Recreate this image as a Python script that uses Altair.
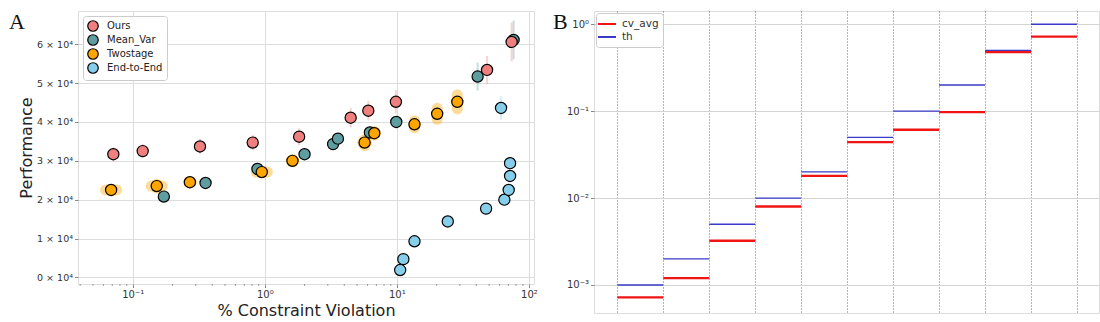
import altair as alt
import pandas as pd

# ---------------- Panel A data ----------------
methods = ["Ours", "Mean_Var", "Twostage", "End-to-End"]
method_colors = ["#F08080", "#5F9EA0", "#FFA500", "#87CEEB"]

ours_cv = [0.0713, 0.119, 0.323, 0.81, 1.82, 4.47, 6.08, 9.84, 48.2, 74.0]
ours_perf = [31700, 32500, 33700, 34700, 36200, 41100, 42900, 45200, 53400, 60600]
ours_err = [1800, 1800, 1900, 2000, 2200, 2500, 2500, 3000, 3600, 5000]

mv_cv = [0.172, 0.356, 0.88, 2.0, 3.29, 3.58, 6.25, 9.9, 40.9, 76.6]
mv_perf = [20800, 24300, 27900, 31700, 34300, 35700, 37300, 40000, 51700, 61100]
mv_err = [1000, 1000, 1200, 1300, 1300, 1300, 1500, 1500, 3600, 5000]

ts_cv = [0.0686, 0.152, 0.271, 0.949, 1.62, 5.7, 6.75, 13.6, 20.2, 28.7]
ts_perf = [22500, 23500, 24500, 27100, 30000, 34700, 37100, 39400, 42100, 45200]
ts_xerr_dec = [0.042, 0.042, 0.011, 0.042, 0.010, 0.015, 0.008, 0.006, 0.006, 0.006]
ts_yerr = [130, 500, 150, 130, 250, 770, 510, 900, 1400, 1800]

e2e_cv = [10.6, 11.2, 13.6, 24.3, 47.4, 65.2, 70.3, 72.0, 72.0, 61.5]
e2e_perf = [1900, 4700, 9300, 14400, 17700, 20000, 22500, 26100, 29400, 43600]
e2e_err = [300, 300, 300, 300, 300, 300, 300, 300, 300, 3000]

x_major = [0.1, 1, 10, 100]
x_minor = [0.04, 0.05, 0.06, 0.07, 0.08, 0.09,
           0.2, 0.3, 0.4, 0.5, 0.6, 0.7, 0.8, 0.9,
           2, 3, 4, 5, 6, 7, 8, 9,
           20, 30, 40, 50, 60, 70, 80, 90]
y_ticks_a = [0, 10000, 20000, 30000, 40000, 50000, 60000]

# ---------------- Panel B data ----------------
seg_lo = [0, 1, 2, 3, 4, 5, 6, 7, 8, 9]
seg_hi = [1, 2, 3, 4, 5, 6, 7, 8, 9, 10]
th_vals = [0.001, 0.002, 0.005, 0.01, 0.02, 0.05, 0.1, 0.2, 0.5, 1.0]
cv_avg_vals = [0.00072, 0.0012, 0.00323, 0.0080, 0.018, 0.044, 0.061, 0.0975, 0.48, 0.72]
b_series = ["cv_avg", "th"]
b_colors = ["#f01414", "#3a3ac8"]
b_grid_x = [0, 1, 2, 3, 4, 5, 6, 7, 8, 9, 10]
y_ticks_b = [0.001, 0.01, 0.1, 1]

FONT = "DejaVu Sans"
W_A, H_A = 456, 273
W_B, H_B = 505, 302

# ---------- build tables ----------
def block(name, cv, perf, err):
    return pd.DataFrame({"method": name, "cv": cv, "perf": perf, "err": err})

pts = pd.concat([
    block("Mean_Var", mv_cv, mv_perf, mv_err),
    block("Ours", ours_cv, ours_perf, ours_err),
    block("Twostage", ts_cv, ts_perf, ts_yerr),
    block("End-to-End", e2e_cv, e2e_perf, e2e_err),
], ignore_index=True)
pts["lo"] = pts["perf"] - pts["err"]
pts["hi"] = pts["perf"] + pts["err"]

ts = pd.DataFrame({"method": "Twostage", "cv": ts_cv, "perf": ts_perf,
                   "xd": ts_xerr_dec, "ye": ts_yerr})
minor_df = pd.DataFrame({"m": x_minor})

xscale = alt.Scale(type="log", domain=[0.03851, 109.3], nice=False)
yscale = alt.Scale(domain=[-1700, 68560], nice=False, zero=False)
cscale = alt.Scale(domain=methods, range=method_colors)

x_label_expr = ("datum.value == 0.1 ? '10⁻¹' : datum.value == 1 ? '10⁰' : "
                "datum.value == 10 ? '10¹' : '10²'")

x_axis = alt.Axis(values=x_major, labelExpr=x_label_expr, grid=True,
                  gridColor="#dddddd", tickSize=3.5, tickColor="#888",
                  domain=False, labelFontSize=10, labelColor="#333",
                  labelFont=FONT, labelPadding=2,
                  title="% Constraint Violation", titleFontSize=16,
                  titleFont=FONT, titleFontWeight="normal", titleColor="#222",
                  titlePadding=3)
y_axis = alt.Axis(values=y_ticks_a,
                  labelExpr="format(datum.value/10000, 'd') + ' × 10⁴'",
                  grid=True, gridColor="#dddddd", tickSize=3.5, tickColor="#888",
                  domain=False, labelFontSize=9.5, labelColor="#333",
                  labelFont=FONT, labelPadding=2,
                  title="Performance", titleFontSize=16, titleFont=FONT,
                  titleFontWeight="normal", titleColor="#222", titlePadding=2)

legend_a = alt.Legend(
    title=None, orient="top-left", offset=5, padding=4,
    fillColor="white", strokeColor="#cccccc", cornerRadius=3,
    labelFontSize=10, labelFont=FONT, labelColor="#222",
    symbolSize=110, symbolStrokeColor="black", symbolStrokeWidth=1.2,
    symbolOpacity=1, symbolType="circle", rowPadding=-2, labelOffset=8)

base = alt.Chart(pts)

err_layers = []
for name, col in zip(methods, method_colors):
    if name == "Twostage":
        continue
    err_layers.append(
        base.transform_filter(alt.datum.method == name).mark_rule(
            strokeWidth=2, opacity=0.35, color=col).encode(
            x=alt.X("cv:Q", scale=xscale, axis=x_axis),
            y=alt.Y("lo:Q", scale=yscale, axis=y_axis),
            y2="hi:Q"))

ts_h = alt.Chart(ts).transform_calculate(
    xl="datum.cv * pow(10, -datum.xd)", xh="datum.cv * pow(10, datum.xd)"
).mark_rule(strokeWidth=11, strokeCap="round", opacity=0.4, color="#FFA500").encode(
    x=alt.X("xl:Q", scale=xscale, axis=x_axis), x2="xh:Q",
    y=alt.Y("perf:Q", scale=yscale, axis=y_axis))

ts_v = alt.Chart(ts).transform_calculate(
    yl="datum.perf - datum.ye", yh="datum.perf + datum.ye"
).mark_rule(strokeWidth=11, strokeCap="round", opacity=0.4, color="#FFA500").encode(
    x=alt.X("cv:Q", scale=xscale, axis=x_axis),
    y=alt.Y("yl:Q", scale=yscale, axis=y_axis), y2="yh:Q")

points = base.mark_point(filled=True, size=125, stroke="black",
                         strokeWidth=1.2, opacity=1).encode(
    x=alt.X("cv:Q", scale=xscale, axis=x_axis),
    y=alt.Y("perf:Q", scale=yscale, axis=y_axis),
    color=alt.Color("method:N", scale=cscale, legend=legend_a),
)

minor = alt.Chart(minor_df).mark_rule(color="#888", strokeWidth=0.8).encode(
    x=alt.X("m:Q", scale=xscale, axis=x_axis),
    y=alt.value(H_A), y2=alt.value(H_A + 2),
)

label_a = alt.Chart(pd.DataFrame({"t": ["A"]})).mark_text(
    font="Liberation Serif", fontSize=22, align="left", baseline="alphabetic",
    color="#111").encode(text="t:N", x=alt.value(-69), y=alt.value(18))

chart_a = alt.layer(*err_layers, ts_h, ts_v, points, minor, label_a).properties(
    width=W_A, height=H_A)

# ---------------- Panel B ----------------
bdf = pd.concat([
    pd.DataFrame({"series": "cv_avg", "lo": seg_lo, "hi": seg_hi, "val": cv_avg_vals}),
    pd.DataFrame({"series": "th", "lo": seg_lo, "hi": seg_hi, "val": th_vals}),
], ignore_index=True)

bx = alt.Scale(domain=[-0.507, 10.479], nice=False, zero=False)
by = alt.Scale(type="log", domain=[4.76e-4, 1.42], nice=False)
bc = alt.Scale(domain=b_series, range=b_colors)

b_y_expr = ("datum.value == 0.001 ? '10⁻³' : datum.value == 0.01 ? '10⁻²' : "
            "datum.value == 0.1 ? '10⁻¹' : '10⁰'")

bx_axis = alt.Axis(values=b_grid_x, grid=True, gridColor="#3535e0",
                   gridDash=[1, 2], gridOpacity=0.8, gridWidth=1,
                   labels=False, ticks=False, domain=False, title=None)
by_axis = alt.Axis(values=y_ticks_b, labelExpr=b_y_expr, grid=True,
                   gridColor="#d4d4d4", gridWidth=1.2, tickSize=3.5,
                   tickColor="#888", domain=False, labelFontSize=10,
                   labelFont=FONT, labelColor="#333", labelPadding=2, title=None)

b_leg = alt.Legend(title=None, orient="top-left", offset=2, padding=4,
                   fillColor="white", strokeColor="#cccccc", cornerRadius=3,
                   labelFontSize=10.5, labelFont=FONT, labelColor="#333",
                   symbolType="M-1.5,0L1.5,0", symbolSize=144,
                   symbolStrokeWidth=2, rowPadding=-2, labelOffset=8)

cv_layer = alt.Chart(bdf).transform_filter("datum.series == 'cv_avg'").mark_rule(
    strokeWidth=2.4).encode(
    x=alt.X("lo:Q", scale=bx, axis=bx_axis), x2="hi:Q",
    y=alt.Y("val:Q", scale=by, axis=by_axis),
    color=alt.Color("series:N", scale=bc, legend=b_leg))

th_layer = alt.Chart(bdf).transform_filter("datum.series == 'th'").mark_rule(
    strokeWidth=1.3).encode(
    x=alt.X("lo:Q", scale=bx, axis=bx_axis), x2="hi:Q",
    y=alt.Y("val:Q", scale=by, axis=by_axis),
    color=alt.Color("series:N", scale=bc, legend=b_leg))

label_b = alt.Chart(pd.DataFrame({"t": ["B"]})).mark_text(
    font="Liberation Serif", fontSize=22, align="left", baseline="alphabetic",
    color="#111").encode(text="t:N", x=alt.value(-41), y=alt.value(18))

chart_b = alt.layer(cv_layer, th_layer, label_b).properties(width=W_B, height=H_B)

chart = alt.hconcat(chart_a, chart_b, spacing=60, bounds="flush").resolve_scale(
    color="independent", x="independent", y="independent"
).resolve_legend(color="independent").properties(
    padding={"left": 8, "top": 10, "right": 0, "bottom": 0}
).configure_view(stroke="#999999", strokeWidth=1).configure(background="white")

chart.save("out.html", embed_options={"renderer": "svg", "actions": False})
